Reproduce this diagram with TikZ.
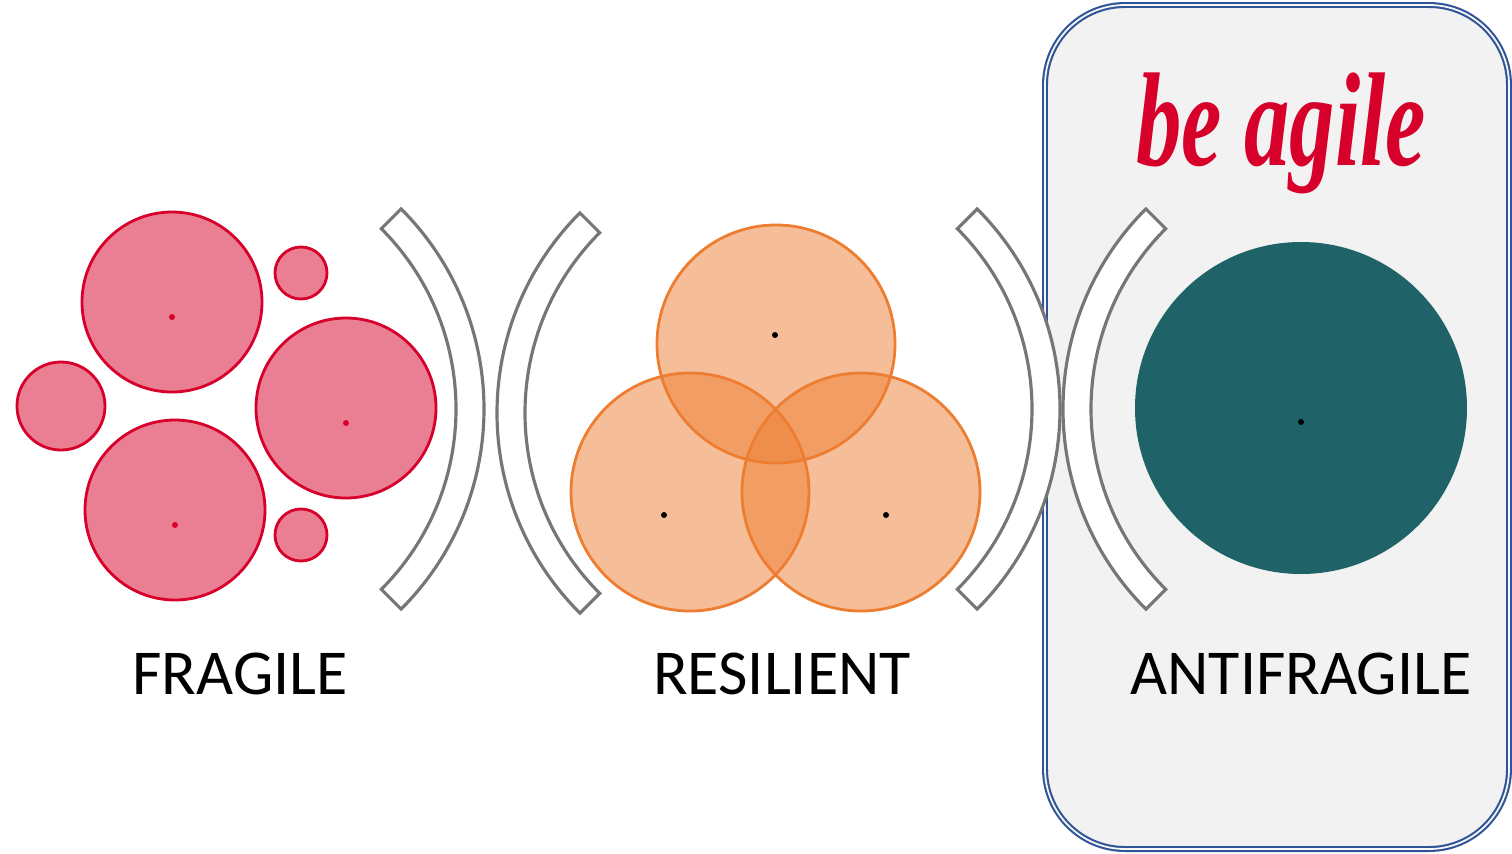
\documentclass[tikz,border=0pt]{standalone}
\usepackage{fontspec}
\setmainfont{Carlito}
\newfontfamily\agilefont{Liberation Serif}
\definecolor{fragred}{RGB}{214,0,42}
\definecolor{resorange}{RGB}{237,125,49}
\definecolor{antiteal}{RGB}{31,99,105}
\definecolor{boxgray}{RGB}{242,242,242}
\definecolor{boxblue}{RGB}{47,85,151}
\definecolor{bracketgray}{RGB}{118,118,118}
\begin{document}
\begin{tikzpicture}[
                        fragcirc/.style={circle, draw=fragred, line width=0.8pt, fill=fragred, fill opacity=0.5, draw opacity=1, inner sep=0pt},
                        rescirc/.style={circle, draw=resorange, line width=0.8pt, fill=resorange, fill opacity=0.5, draw opacity=1, inner sep=0pt},
                        dotnode/.style={circle, fill=black, minimum size=0.06cm, inner sep=0pt},
                        bracket/.style={draw=bracketgray, line width=0.9pt, fill=white},
                        label/.style={anchor=base, font=\fontsize{18.2}{22}\selectfont}
                    ]
                    \useasboundingbox (0,0) rectangle (15.12,8.53);

                    % Box
                    \node [draw=boxblue, double=boxgray!60!white, double distance=0.5pt, line width=0.6pt, fill=boxgray, rounded corners=0.8cm,
                           minimum width=4.64cm, minimum height=8.44cm, inner sep=0pt] (box) at (12.77,4.26) {};

                    % Fragile
                    \node [fragcirc, minimum size=1.80cm] (f1) at (1.72,5.51) {};
                    \node [fragcirc, minimum size=1.80cm] (f2) at (3.46,4.45) {};
                    \node [fragcirc, minimum size=1.80cm] (f3) at (1.75,3.43) {};
                    \node [fragcirc, minimum size=0.88cm] (f4) at (0.61,4.47) {};
                    \node [fragcirc, minimum size=0.52cm] (f5) at (3.01,5.80) {};
                    \node [fragcirc, minimum size=0.52cm] (f6) at (3.01,3.18) {};
                    \node [dotnode, fill=fragred] (fd1) at (1.72,5.36) {};
                    \node [dotnode, fill=fragred] (fd2) at (3.46,4.30) {};
                    \node [dotnode, fill=fragred] (fd3) at (1.75,3.28) {};

                    % Brackets
                    \coordinate (b1) at (2.01,4.44);
                    \coordinate (b2) at (7.80,4.40);
                    \coordinate (b3) at (7.77,4.44);
                    \coordinate (b4) at (13.46,4.44);
                    \foreach \c in {b1,b3}
                        \draw [bracket] (\c) ++(45:2.55) arc[start angle=45, end angle=-45, radius=2.55]
                            -- ++(-45:0.28) arc[start angle=-45, end angle=45, radius=2.83] -- cycle;
                    \foreach \c in {b2,b4}
                        \draw [bracket] (\c) ++(135:2.55) arc[start angle=135, end angle=225, radius=2.55]
                            -- ++(225:0.28) arc[start angle=225, end angle=135, radius=2.83] -- cycle;

                    % Resilient
                    \node [rescirc, minimum size=2.38cm] (r1) at (7.76,5.09) {};
                    \node [rescirc, minimum size=2.38cm] (r2) at (6.90,3.61) {};
                    \node [rescirc, minimum size=2.38cm] (r3) at (8.61,3.61) {};
                    \node [dotnode] (rd1) at (7.75,5.18) {};
                    \node [dotnode] (rd2) at (6.64,3.38) {};
                    \node [dotnode] (rd3) at (8.86,3.38) {};

                    % Antifragile
                    \node [circle, fill=antiteal, minimum size=3.32cm, inner sep=0pt] (a1) at (13.01,4.45) {};
                    \node [dotnode] (ad1) at (13.01,4.31) {};
                    \node [text=fragred, font=\agilefont\bfseries\itshape\fontsize{38}{42}\selectfont, anchor=base, xscale=0.68] (agile) at (12.81,6.88) {be agile};

                    % Labels
                    \node [label] (fragile) at (2.40,1.59) {FRAGILE};
                    \node [label] (resilient) at (7.82,1.59) {RESILIENT};
                    \node [label] (antifragile) at (13.01,1.59) {ANTIFRAGILE};
                \end{tikzpicture}
\end{document}
